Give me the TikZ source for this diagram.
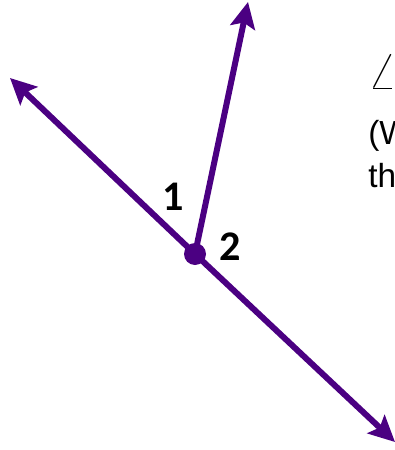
\documentclass[tikz,border=0pt]{standalone}
\usepackage{fontspec}
\setmainfont{Liberation Sans}
\newfontfamily\numfont{Carlito}
\usetikzlibrary{arrows.meta,positioning}
\definecolor{raypurple}{HTML}{4B0082}

\begin{document}
\begin{tikzpicture}[x=0.02cm,y=-0.02cm,
  ray/.style={line width=0.12cm,raypurple,-{Stealth[length=0.52cm,width=0.5cm,inset=0.1cm]}},
  lbl/.style={font=\numfont\bfseries\fontsize{24}{28}\selectfont,inner sep=0pt},
  txt/.style={font=\fontsize{19}{23}\selectfont,inner sep=0pt,anchor=west}]
\useasboundingbox (0,0) rectangle (395,450);
\clip (0,0) rectangle (395,450);

% vertex and ray ends
\coordinate (vtx) at (195,254);
\coordinate (left) at (10,78);
\coordinate (up) at (248,2);
\coordinate (down) at (395,442);

% rays
\draw[ray] (vtx) -- (left);
\draw[ray] (vtx) -- (down);
\draw[ray] (vtx) -- (up);
\fill[raypurple] (vtx) circle (11);

% angle labels
\node[lbl] (one) at (173,197) {1};
\node[lbl] (two) at (230,247) {2};

% side text (cut off at the edge)
\node[txt,font=\fontsize{30}{30}\selectfont] (ang) at (368,72) {$\angle$};
\node[txt] (ln1) at (368,136) {(W};
\node[txt] (ln2) at (368,176) {th};

\end{tikzpicture}
\end{document}
